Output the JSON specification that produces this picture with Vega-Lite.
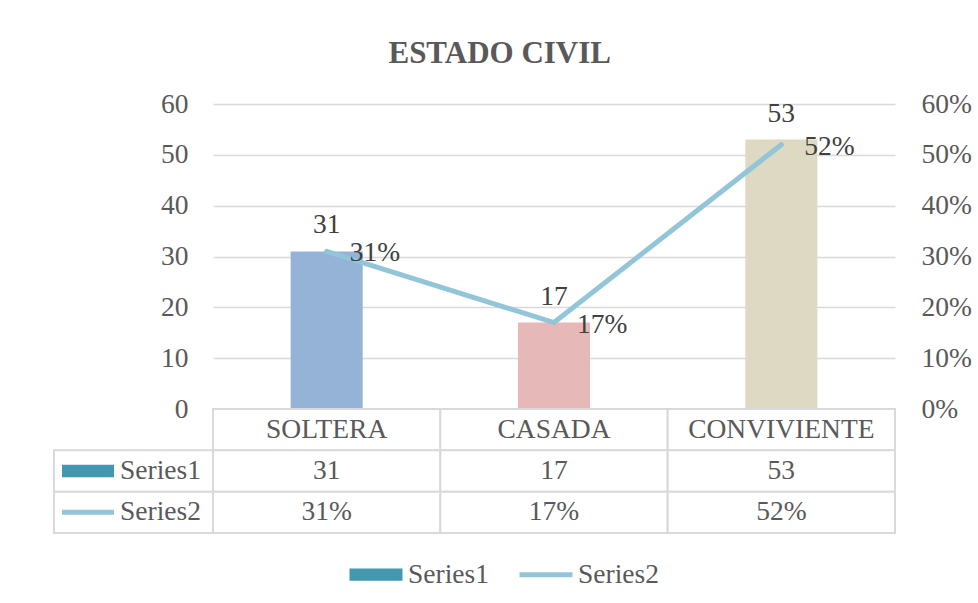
{
  "$schema": "https://vega.github.io/schema/vega-lite/v6.json",
  "padding": {"left": 52, "top": 38, "right": 0, "bottom": 0},
  "background": "white",
  "title": {"text": "ESTADO CIVIL", "font": "Liberation Serif", "fontSize": 31, "fontWeight": "bold", "color": "#595959", "anchor": "middle", "offset": 20, "dx": -12},
  "datasets": {
    "main": [
      {"estado": "SOLTERA", "n": 31, "pct": 0.31},
      {"estado": "CASADA", "n": 17, "pct": 0.17},
      {"estado": "CONVIVIENTE", "n": 53, "pct": 0.52}
    ],
    "table": [
      {"row": "cat", "estado": "SOLTERA", "label": "SOLTERA"},
      {"row": "cat", "estado": "CASADA", "label": "CASADA"},
      {"row": "cat", "estado": "CONVIVIENTE", "label": "CONVIVIENTE"},
      {"row": "Series1", "estado": "SOLTERA", "label": "31"},
      {"row": "Series1", "estado": "CASADA", "label": "17"},
      {"row": "Series1", "estado": "CONVIVIENTE", "label": "53"},
      {"row": "Series2", "estado": "SOLTERA", "label": "31%"},
      {"row": "Series2", "estado": "CASADA", "label": "17%"},
      {"row": "Series2", "estado": "CONVIVIENTE", "label": "52%"}
    ],
    "header": [
      {"row": "Series1"},
      {"row": "Series2"}
    ]
  },
  "columns": 2,
  "spacing": 0,
  "bounds": "flush",
  "align": "each",
  "concat": [
    {
      "width": 159,
      "height": 305,
      "data": {"values": []},
      "mark": "text",
      "encoding": {}
    },
    {
      "width": 682,
      "height": 305,
      "data": {"name": "main"},
      "encoding": {
        "x": {"field": "estado", "type": "nominal", "sort": ["SOLTERA", "CASADA", "CONVIVIENTE"], "axis": null, "scale": {"paddingInner": 0.683, "paddingOuter": 0.3415}}
      },
      "layer": [
        {
          "encoding": {
            "y": {"field": "n", "type": "quantitative", "scale": {"domain": [0, 60], "nice": false},
              "axis": {"values": [0, 10, 20, 30, 40, 50, 60], "grid": true, "gridColor": "#D9D9D9", "gridWidth": 1.5, "domain": false, "ticks": false, "labelFont": "Liberation Serif", "labelFontSize": 27.5, "labelColor": "#595959", "labelPadding": 25, "title": null}}
          },
          "layer": [
            {
              "mark": {"type": "bar"},
              "encoding": {
                "fill": {"field": "estado", "type": "nominal", "scale": {"domain": ["SOLTERA", "CASADA", "CONVIVIENTE"], "range": ["#95B3D7", "#E6B9B8", "#DDD9C3"]}, "legend": null}
              }
            },
            {
              "mark": {"type": "text", "baseline": "alphabetic", "dy": -18, "font": "Liberation Serif", "fontSize": 27.5, "color": "#404040"},
              "encoding": {"text": {"field": "n", "type": "quantitative"}}
            }
          ]
        },
        {
          "encoding": {
            "y": {"field": "pct", "type": "quantitative", "scale": {"domain": [0, 0.6], "nice": false},
              "axis": {"orient": "right", "values": [0, 0.1, 0.2, 0.3, 0.4, 0.5, 0.6], "format": ".0%", "grid": false, "domain": false, "ticks": false, "labelFont": "Liberation Serif", "labelFontSize": 27.5, "labelColor": "#595959", "labelPadding": 26, "title": null}}
          },
          "layer": [
            {
              "mark": {"type": "line", "color": "#92C5D7", "strokeWidth": 5, "strokeCap": "round"}
            },
            {
              "mark": {"type": "text", "align": "left", "baseline": "alphabetic", "dx": 23, "dy": 10, "font": "Liberation Serif", "fontSize": 27.5, "color": "#404040"},
              "encoding": {"text": {"field": "pct", "type": "quantitative", "format": ".0%"}}
            }
          ]
        }
      ],
      "resolve": {"scale": {"y": "independent"}}
    },
    {
      "width": 159,
      "height": 124,
      "data": {"name": "header"},
      "encoding": {
        "x": {"datum": "h", "type": "nominal", "axis": null, "scale": {"paddingInner": 0, "paddingOuter": 0}},
        "y": {"field": "row", "type": "nominal", "axis": null, "scale": {"domain": ["cat", "Series1", "Series2"], "paddingInner": 0, "paddingOuter": 0}}
      },
      "layer": [
        {"mark": {"type": "rect", "fill": "white", "stroke": "#D9D9D9", "strokeWidth": 2}},
        {
          "mark": {"type": "text", "align": "left", "baseline": "middle", "dx": -13.5, "font": "Liberation Serif", "fontSize": 27.5, "color": "#595959"},
          "encoding": {"text": {"field": "row", "type": "nominal"}}
        },
        {
          "mark": {"type": "point", "filled": false, "size": 2704, "xOffset": -45.5, "opacity": 1, "strokeWidth": 5},
          "encoding": {
            "color": {"field": "row", "type": "nominal", "scale": {"domain": ["Series1", "Series2"], "range": ["#4397AE", "#92C5D7"]},
              "legend": {"orient": "none", "legendX": 293, "legendY": 441.5, "direction": "horizontal", "title": null, "padding": 0, "symbolSize": 2809, "symbolStrokeWidth": 5, "labelFont": "Liberation Serif", "labelFontSize": 27.5, "labelColor": "#595959", "labelOffset": 3, "columnPadding": 20}},
            "shape": {"field": "row", "type": "nominal", "scale": {"domain": ["Series1", "Series2"], "range": ["M-1,-0.14H1M-1,0H1M-1,0.14H1", "M-1,0H1"]},
              "legend": {"orient": "none", "legendX": 293, "legendY": 441.5, "direction": "horizontal", "title": null, "padding": 0, "symbolSize": 2809, "symbolStrokeWidth": 5, "labelFont": "Liberation Serif", "labelFontSize": 27.5, "labelColor": "#595959", "labelOffset": 3, "columnPadding": 20}}
          }
        }
      ]
    },
    {
      "width": 682,
      "height": 124,
      "data": {"name": "table"},
      "encoding": {
        "x": {"field": "estado", "type": "nominal", "sort": ["SOLTERA", "CASADA", "CONVIVIENTE"], "axis": null, "scale": {"paddingInner": 0, "paddingOuter": 0}},
        "y": {"field": "row", "type": "nominal", "axis": null, "scale": {"domain": ["cat", "Series1", "Series2"], "paddingInner": 0, "paddingOuter": 0}}
      },
      "layer": [
        {"mark": {"type": "rect", "fill": "white", "stroke": "#D9D9D9", "strokeWidth": 2}},
        {
          "mark": {"type": "text", "baseline": "middle", "font": "Liberation Serif", "fontSize": 27.5, "color": "#595959"},
          "encoding": {"text": {"field": "label", "type": "nominal"}}
        }
      ]
    }
  ],
  "resolve": {"scale": {"x": "independent", "y": "independent"}},
  "config": {
    "view": {"stroke": null},
    "font": "Liberation Serif"
  }
}
